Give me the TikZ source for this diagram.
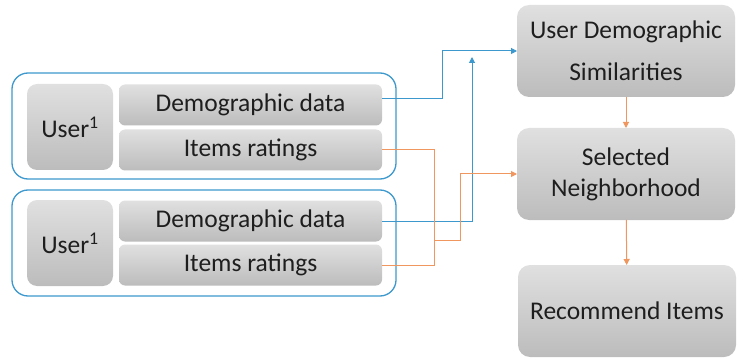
\documentclass[tikz,border=0pt]{standalone}
\usepackage{fontspec}
\setmainfont{Carlito}
\usepackage{tikz}
\usetikzlibrary{positioning,arrows.meta}
\definecolor{lineblue}{RGB}{60,152,205}
\definecolor{lineorange}{RGB}{240,150,95}
\definecolor{boxtop}{RGB}{224,224,224}
\definecolor{boxbottom}{RGB}{188,188,188}
\definecolor{txtgray}{RGB}{30,30,30}
\tikzset{
graybox/.style = {rounded corners=#1, top color=boxtop, bottom color=boxbottom, text=txtgray, inner sep=0pt, outer sep=0pt},
graybox/.default = 10pt, % corner radius of the gray boxes
groupbox/.style = {draw=lineblue, line width=1.3pt, rounded corners=16pt, minimum width=384pt, minimum height=106pt},
%groupbox/.style = {}
datarow/.style = {graybox=6pt, minimum width=263pt, minimum height=41pt},
stagebox/.style = {graybox=12pt, minimum width=218pt, minimum height=92pt, align=center}
}
\tikzset{bluewire/.style={draw=lineblue, line width=1pt}}
\tikzset{orangewire/.style={draw=lineorange, line width=1pt}}

\begin{document}
\begin{tikzpicture}[x=1pt, y=-1pt,
      font=\fontsize{25.5}{31}\selectfont,
      >={Triangle[length=6pt,width=6pt]}]
      \useasboundingbox (0,0) rectangle (738,358);
      % first user
      \node [groupbox] (grp1) at (204,126) {};
      \node [graybox, minimum width=86pt, minimum height=86pt] (user1) at (70,127) {User\textsuperscript{1}};
      \node [datarow] (demo1) at (250.5,105) {Demographic data};
      \node [datarow] (items1) at (250.5,150) {Items ratings};
      % second user
      \node [groupbox] (grp2) at (204,243) {};
      \node [graybox, minimum width=86pt, minimum height=86pt] (user2) at (70,243) {User\textsuperscript{1}};
      \node [datarow] (demo2) at (250.5,221) {Demographic data};
      \node [datarow] (items2) at (250.5,265) {Items ratings};
      % stages on the right
      \node [stagebox] (simil) at (626,51) {User Demographic\\[11pt]Similarities};
      \node [stagebox] (select) at (626,174) {Selected\\Neighborhood};
      \node [stagebox] (recom) at (627,311) {Recommend Items};
      \coordinate (merge) at (434,240);
      \coordinate (uptip) at (472,57);
      % connectors
      \draw [bluewire, ->] ([yshift=6pt]demo1.east) -- ++(60,0) |- (simil.west);
      \draw [bluewire, ->] (demo2.east) -| (uptip);
      \draw [orangewire] (items1.east) -| (merge);
      \draw [orangewire] (items2.east) -| (merge);
      \draw [orangewire, ->] (merge) -- ++(26,0) |- (select.west);
      \draw [orangewire, ->] (simil) -- (select);
      \draw [orangewire, ->] (select) -- (recom);
    \end{tikzpicture}
\end{document}
